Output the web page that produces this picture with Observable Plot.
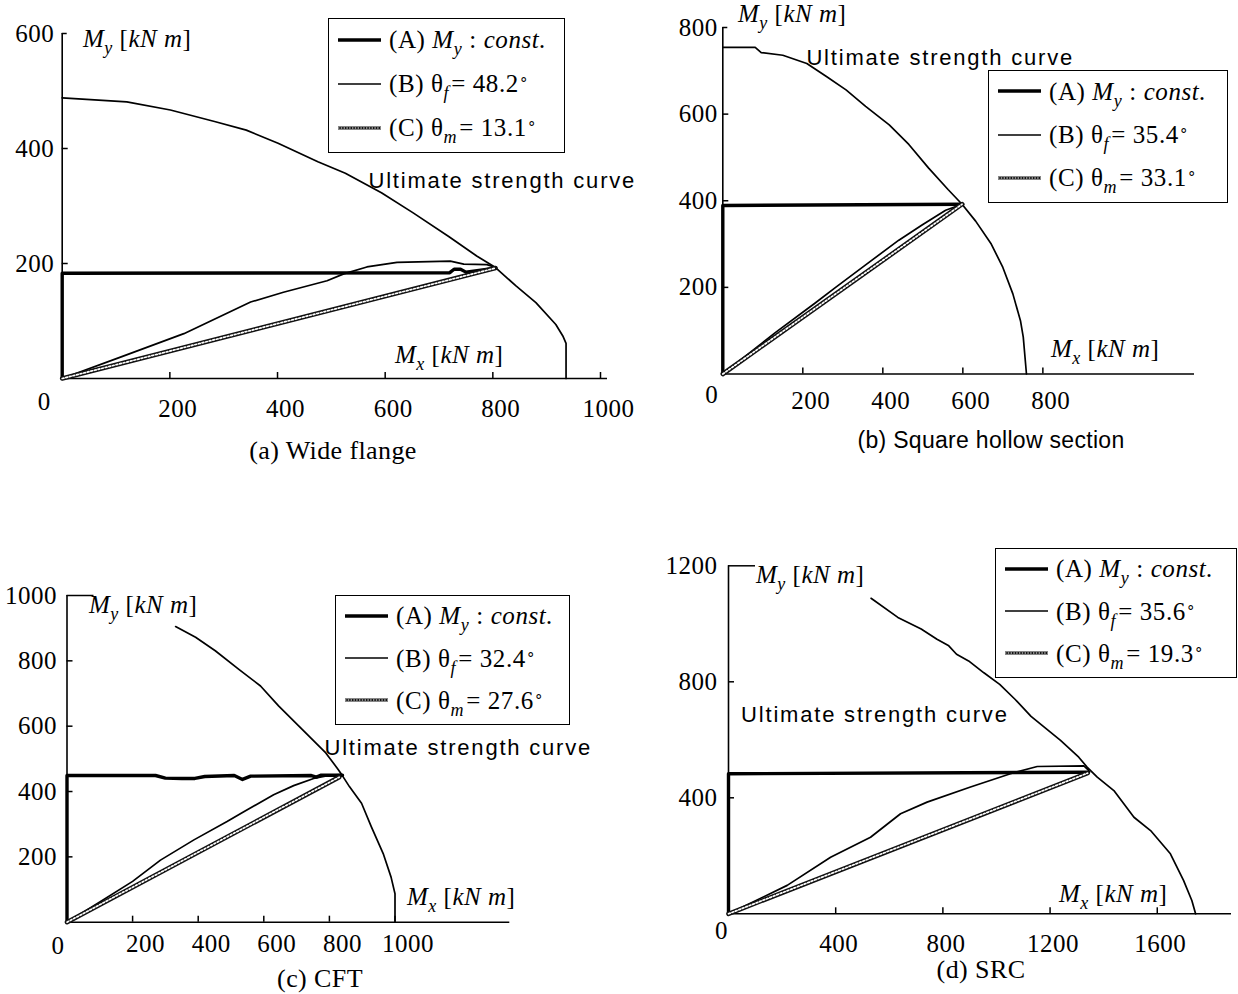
<!DOCTYPE html>
<html><head><meta charset="utf-8">
<script src="https://cdn.jsdelivr.net/npm/d3@7"></script>
<script src="https://cdn.jsdelivr.net/npm/@observablehq/plot@0.6"></script>
<style>
html,body{margin:0;padding:0;background:#fff;}
#root{position:relative;width:1238px;height:994px;overflow:hidden;background:#fff;color:#000;font-family:"Liberation Serif","Times New Roman",serif;}
.layer{position:absolute;left:0;top:0;}
.lbl{position:absolute;white-space:nowrap;line-height:1;}
.serif{font-family:"Liberation Serif","Times New Roman",serif;}
.sans{font-family:"Liberation Sans",Arial,sans-serif;}
sub{font-size:0.72em;vertical-align:-0.38em;line-height:0;}
sub.g{margin-right:2px;}
sup{font-size:0.6em;vertical-align:0.55em;line-height:0;}
.legend{position:absolute;border:1.5px solid #000;background:#fff;box-sizing:border-box;}
.row{position:absolute;left:0;height:30px;display:flex;align-items:center;white-space:nowrap;}
.row span{font-size:25px;line-height:1;letter-spacing:0.6px;}
</style>
</head><body><div id="root"></div>
<script>
// ---------- shared text values ----------
const panelTitles = ["(a) Wide flange", "(b) Square hollow section", "(c) CFT", "(d) SRC"];
const thetaF = [48.2, 35.4, 32.4, 35.6];
const thetaM = [13.1, 33.1, 27.6, 19.3];
const curveLabel = "Ultimate strength curve";

// ---------- (a) Wide flange ----------
const aXTicks = [200, 400, 600, 800, 1000];
const aYTicks = [200, 400, 600];
const aUltX = [0, 120, 201, 283, 342, 401, 475, 526, 593, 652, 718, 770, 805, 843, 880, 917, 930, 936, 936];
const aUltY = [488, 481, 467, 447, 432, 409, 377, 357, 323, 288, 247, 213, 193, 161, 132, 94, 74, 61, 0];
const aPathAX = [0, 0, 720, 728, 740, 750, 805];
const aPathAY = [0, 183, 184, 190, 190, 185, 192];
const aPathBX = [0, 102, 226, 350, 411, 492, 523, 566, 622, 721, 746, 789, 805];
const aPathBY = [0, 35, 78, 133, 150, 170, 182, 194, 202, 204, 199, 198, 193];
const aPathCX = [0, 805];
const aPathCY = [0, 192];

// ---------- (b) Square hollow section ----------
const bXTicks = [200, 400, 600, 800];
const bYTicks = [200, 400, 600, 800];
const bUltX = [0, 81, 96, 150, 210, 259, 308, 357, 416, 465, 514, 563, 598, 632, 671, 700, 725, 744, 751, 759];
const bUltY = [754, 754, 742, 736, 717, 687, 656, 618, 575, 530, 476, 426, 392, 353, 300, 246, 185, 123, 85, 0];
const bPathAX = [0, 0, 600];
const bPathAY = [0, 389, 392];
const bPathBX = [0, 132, 231, 282, 357, 440, 498, 557, 598];
const bPathBY = [0, 96, 164, 200, 252, 309, 344, 378, 392];
const bPathCX = [0, 598];
const bPathCY = [0, 392];

// ---------- (c) CFT ----------
const cXTicks = [200, 400, 600, 800, 1000];
const cYTicks = [200, 400, 600, 800, 1000];
const cUltX = [331, 392, 452, 524, 590, 645, 717, 789, 825, 840, 861, 898, 928, 964, 988, 1000, 1000];
const cUltY = [905, 872, 831, 774, 723, 662, 590, 518, 470, 448, 415, 364, 292, 210, 138, 87, 0];
const cPathAX = [0, 0, 270, 300, 350, 390, 420, 510, 535, 560, 745, 760, 775, 840];
const cPathAY = [0, 449, 449, 441, 440, 440, 446, 449, 437, 447, 449, 444, 450, 450];
const cPathBX = [0, 100, 200, 285, 387, 488, 539, 630, 691, 752, 803, 834];
const cPathBY = [0, 62, 125, 190, 252, 308, 338, 390, 418, 440, 450, 452];
const cPathCX = [0, 830];
const cPathCY = [0, 444];

// ---------- (d) SRC ----------
const dXTicks = [400, 800, 1200, 1600];
const dYTicks = [400, 800, 1200];
const dUltX = [532, 632, 719, 778, 822, 851, 896, 953, 1012, 1070, 1129, 1239, 1307, 1338, 1376, 1438, 1513, 1575, 1649, 1698, 1729, 1743];
const dUltY = [1088, 1022, 982, 947, 924, 895, 872, 831, 791, 739, 681, 598, 540, 506, 471, 425, 333, 287, 207, 115, 46, 0];
const dPathAX = [0, 0, 1344];
const dPathAY = [0, 483, 488];
const dPathBX = [0, 219, 381, 530, 642, 741, 903, 1052, 1152, 1326, 1344];
const dPathBY = [0, 98, 195, 264, 345, 385, 437, 483, 508, 510, 495];
const dPathCX = [0, 1340];
const dPathCY = [0, 485];

// ---------- assemble ----------
const panelData = [
  {xTicks: aXTicks, yTicks: aYTicks, ultX: aUltX, ultY: aUltY, AX: aPathAX, AY: aPathAY, BX: aPathBX, BY: aPathBY, CX: aPathCX, CY: aPathCY},
  {xTicks: bXTicks, yTicks: bYTicks, ultX: bUltX, ultY: bUltY, AX: bPathAX, AY: bPathAY, BX: bPathBX, BY: bPathBY, CX: bPathCX, CY: bPathCY},
  {xTicks: cXTicks, yTicks: cYTicks, ultX: cUltX, ultY: cUltY, AX: cPathAX, AY: cPathAY, BX: cPathBX, BY: cPathBY, CX: cPathCX, CY: cPathCY},
  {xTicks: dXTicks, yTicks: dYTicks, ultX: dUltX, ultY: dUltY, AX: dPathAX, AY: dPathAY, BX: dPathBX, BY: dPathBY, CX: dPathCX, CY: dPathCY}
];

// layout (pixel placement and styling only)
const layouts = [
  {xDom: [0, 1013], yDom: [0, 600], xr: [61.7, 607], yr: [378, 33], xdx: 8, xdy: 30, ydx: -8, zero: [-18, 23], topTick: 5,
   labelAt: [569, 343], legend: [328, 18, 237, 135], title: [333, 451, "serif", 26, 0.4], my: [83, 47], mx: [395, 363]},
  {xDom: [0, 1179], yDom: [0, 800], xr: [722.3, 1194], yr: [373.5, 27], xdx: 8, xdy: 27, ydx: -5, zero: [-11, 21], topTick: 5,
   labelAt: [209, 729], legend: [988, 70, 240, 133], title: [991, 440, "sans", 23, 0.3], my: [738, 22], mx: [1051, 357]},
  {xDom: [0, 1350], yDom: [0, 1000], xr: [66.5, 509.3], yr: [921.7, 595], xdx: 13, xdy: 22, ydx: -10, zero: [-9, 24], topTick: 27,
   labelAt: [785, 532], legend: [335, 595, 235, 130], title: [320, 979, "serif", 26, 0.4], my: [89, 613], mx: [407, 905]},
  {xDom: [0, 1877], yDom: [0, 1200], xr: [728, 1231], yr: [913.3, 565.3], xdx: 3, xdy: 30, ydx: -11, zero: [-7, 17], topTick: 27,
   labelAt: [47, 684], legend: [995, 548, 242, 130], title: [981, 970, "serif", 26, 0.4], my: [756, 583], mx: [1059, 902]}
];

const SERIF = '"Liberation Serif","Times New Roman",serif';
const SANS = '"Liberation Sans",Arial,sans-serif';
const root = document.getElementById("root");

function pts(xs, ys) { return xs.map((x, i) => ({x, y: ys[i]})); }

function drawPanel(d, L) {
  const kx = (L.xr[1] - L.xr[0]) / (L.xDom[1] - L.xDom[0]);
  const ky = (L.yr[0] - L.yr[1]) / (L.yDom[1] - L.yDom[0]);
  const tick = 6;
  const topY = d.yTicks[d.yTicks.length - 1];
  const lowerY = d.yTicks.slice(0, -1);
  const svg = Plot.plot({
    width: 1238, height: 994,
    marginLeft: L.xr[0], marginRight: 1238 - L.xr[1],
    marginTop: L.yr[1], marginBottom: 994 - L.yr[0],
    x: {domain: L.xDom, axis: null},
    y: {domain: L.yDom, axis: null},
    style: {background: "transparent", overflow: "visible", maxWidth: "none"},
    marks: [
      Plot.ruleY([0], {x1: 0, x2: L.xDom[1], strokeWidth: 1.6}),
      Plot.ruleX([0], {y1: 0, y2: L.yDom[1], strokeWidth: 1.6}),
      Plot.ruleX(d.xTicks, {y1: 0, y2: tick / ky, strokeWidth: 1.5}),
      Plot.ruleY(lowerY, {x1: 0, x2: tick / kx, strokeWidth: 1.5}),
      Plot.ruleY([topY], {x1: 0, x2: L.topTick / kx, strokeWidth: 1.5}),
      Plot.text(d.xTicks, {x: v => v, y: 0, text: v => String(v), dx: L.xdx, dy: L.xdy, fontSize: 25, fontFamily: SERIF}),
      Plot.text(d.yTicks, {x: 0, y: v => v, text: v => String(v), textAnchor: "end", dx: L.ydx, fontSize: 25, fontFamily: SERIF}),
      Plot.text([0], {x: 0, y: 0, text: v => String(v), dx: L.zero[0], dy: L.zero[1], fontSize: 25, fontFamily: SERIF}),
      Plot.line(pts(d.ultX, d.ultY), {x: "x", y: "y", strokeWidth: 1.7}),
      Plot.line(pts(d.AX, d.AY), {x: "x", y: "y", strokeWidth: 3.4}),
      Plot.line(pts(d.BX, d.BY), {x: "x", y: "y", strokeWidth: 1.7}),
      Plot.line(pts(d.CX, d.CY), {x: "x", y: "y", stroke: "#111", strokeWidth: 4.6}),
      Plot.line(pts(d.CX, d.CY), {x: "x", y: "y", stroke: "white", strokeWidth: 1.7, strokeDasharray: "1.8,1.9"}),
      Plot.text([curveLabel], {x: L.labelAt[0], y: L.labelAt[1], text: v => v, textAnchor: "start", fontSize: 22, fontFamily: SANS})
    ]
  });
  svg.querySelectorAll("text").forEach(t => {
    if (t.textContent === curveLabel) t.style.letterSpacing = "1.8px";
    else t.style.letterSpacing = "0.5px";
  });
  const wrap = document.createElement("div");
  wrap.className = "layer";
  wrap.appendChild(svg);
  root.appendChild(wrap);
}

function addHTML(html, left, top, cls, size, extra) {
  const el = document.createElement("div");
  el.className = "lbl " + cls;
  el.style.left = left + "px";
  el.style.top = top + "px";
  el.style.fontSize = size + "px";
  if (extra) Object.assign(el.style, extra);
  el.innerHTML = html;
  root.appendChild(el);
  return el;
}

function sampleSVG(kind) {
  const w = 43, h = 12, y = 6;
  if (kind === "A") return `<svg width="${w}" height="${h}"><line x1="0" x2="${w}" y1="${y}" y2="${y}" stroke="#000" stroke-width="3.4"/></svg>`;
  if (kind === "B") return `<svg width="${w}" height="${h}"><line x1="0" x2="${w}" y1="${y}" y2="${y}" stroke="#000" stroke-width="1.5"/></svg>`;
  return `<svg width="${w}" height="${h}"><line x1="0" x2="${w}" y1="${y}" y2="${y}" stroke="#111" stroke-width="3"/><line x1="0" x2="${w}" y1="${y}" y2="${y}" stroke="#fff" stroke-width="1.1" stroke-dasharray="1.4,1.4"/></svg>`;
}

function drawLegend(i, L) {
  const [left, top, w, h] = L.legend;
  const box = document.createElement("div");
  box.className = "legend";
  Object.assign(box.style, {left: left + "px", top: top + "px", width: w + "px", height: h + "px"});
  const rows = [
    {kind: "A", html: `(A) <i>M<sub>y</sub></i> : <i>const.</i>`},
    {kind: "B", html: `(B) θ<sub class="g"><i>f</i></sub>= ${thetaF[i]}<sup>∘</sup>`},
    {kind: "C", html: `(C) θ<sub class="g"><i>m</i></sub>= ${thetaM[i]}<sup>∘</sup>`}
  ];
  const fr = [0.165, 0.49, 0.815];
  rows.forEach((r, k) => {
    const row = document.createElement("div");
    row.className = "row";
    row.style.top = (fr[k] * h - 15 - 1.5) + "px";
    row.innerHTML = `<div style="width:9px"></div>${sampleSVG(r.kind)}<div style="width:8px"></div><span class="serif">${r.html}</span>`;
    box.appendChild(row);
  });
  root.appendChild(box);
}

panelData.forEach((d, i) => {
  const L = layouts[i];
  drawPanel(d, L);
  drawLegend(i, L);
  // axis titles (left, baseline)
  addHTML(`<i>M<sub>y</sub></i> [<i>kN m</i>]`, L.my[0], L.my[1] - 21, "serif", 25, {letterSpacing: "0.5px"});
  addHTML(`<i>M<sub>x</sub></i> [<i>kN m</i>]`, L.mx[0], L.mx[1] - 21, "serif", 25, {letterSpacing: "0.5px"});
  // panel caption (centered)
  const [cx, cy, fam, fs, ls] = L.title;
  addHTML(panelTitles[i], cx, cy, fam, fs, {transform: "translate(-50%,-50%)", letterSpacing: ls + "px"});
});
</script>
</body></html>
